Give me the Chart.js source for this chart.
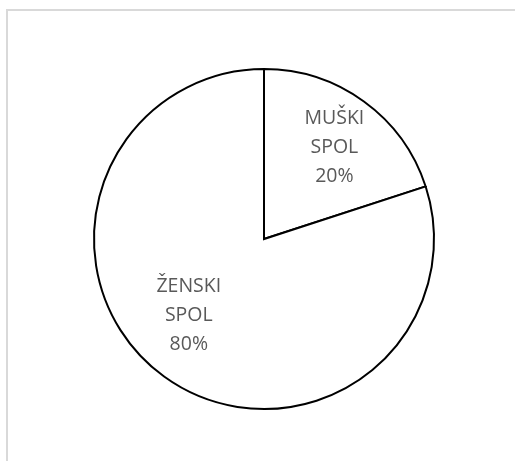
<!DOCTYPE html>
<html lang="hr">
<head>
    <meta charset="UTF-8">
    <title>Spol ispitanika</title>
    <style>
        html, body { margin: 0; padding: 0; background: #fff; }
        #wrap { position: relative; width: 515px; height: 461px; }
    </style>
</head>
<body>
    <div id="wrap"><canvas id="pieChart" width="515" height="461"></canvas></div>
    <script src="https://cdn.jsdelivr.net/npm/chart.js"></script>
    <script>
    // Data
    const categories = ['MUŠKI SPOL', 'ŽENSKI SPOL'];
    const shares = [20, 80];

    // Grey frame around the plot (only top and left edges show)
    const framePlugin = {
        id: 'frame',
        beforeDraw(chart) {
            const ctx = chart.ctx;
            ctx.save();
            ctx.fillStyle = '#fff';
            ctx.fillRect(0, 0, chart.width, chart.height);
            ctx.strokeStyle = '#d9d9d9';
            ctx.lineWidth = 2;
            ctx.beginPath();
            ctx.moveTo(7, chart.height);
            ctx.lineTo(7, 10);
            ctx.lineTo(chart.width, 10);
            ctx.stroke();
            ctx.restore();
        }
    };

    // Category name + percentage written inside each slice
    const sliceLabels = {
        id: 'sliceLabels',
        afterDatasetsDraw(chart, args, opts) {
            const ctx = chart.ctx;
            const meta = chart.getDatasetMeta(0);
            const total = shares.reduce((a, b) => a + b, 0);
            ctx.save();
            ctx.font = opts.font;
            ctx.fillStyle = opts.color;
            ctx.textAlign = 'center';
            ctx.textBaseline = 'middle';
            meta.data.forEach((arc, i) => {
                const p = arc.getProps(['x', 'y', 'startAngle', 'endAngle', 'outerRadius'], true);
                const place = opts.placement[i] || { r: 0.65, da: 0 };
                const mid = (p.startAngle + p.endAngle) / 2 + place.da * Math.PI / 180;
                const cx = p.x + Math.cos(mid) * p.outerRadius * place.r;
                const cy = p.y + Math.sin(mid) * p.outerRadius * place.r;
                const lines = categories[i].split(' ');
                lines.push(Math.round(shares[i] / total * 100) + '%');
                const top = cy - (lines.length - 1) * opts.lineHeight / 2;
                lines.forEach((t, k) => ctx.fillText(t, cx, top + k * opts.lineHeight));
            });
            ctx.restore();
        }
    };

    new Chart(document.getElementById('pieChart'), {
        type: 'pie',
        data: {
            labels: categories,
            datasets: [{
                data: shares,
                backgroundColor: '#ffffff',
                borderColor: '#000000',
                borderWidth: 2,
                borderJoinStyle: 'miter'
            }]
        },
        options: {
            responsive: false,
            animation: false,
            layout: { padding: { left: 93, right: 80, top: 68, bottom: 51 } },
            plugins: {
                legend: { display: false },
                tooltip: { enabled: false },
                sliceLabels: {
                    font: '19.5px "Open Sans", sans-serif',
                    color: '#595959',
                    lineHeight: 29,
                    placement: [{ r: 0.68, da: 1.5 }, { r: 0.63, da: 8.6 }]
                }
            }
        },
        plugins: [framePlugin, sliceLabels]
    });
    </script>
</body>
</html>
